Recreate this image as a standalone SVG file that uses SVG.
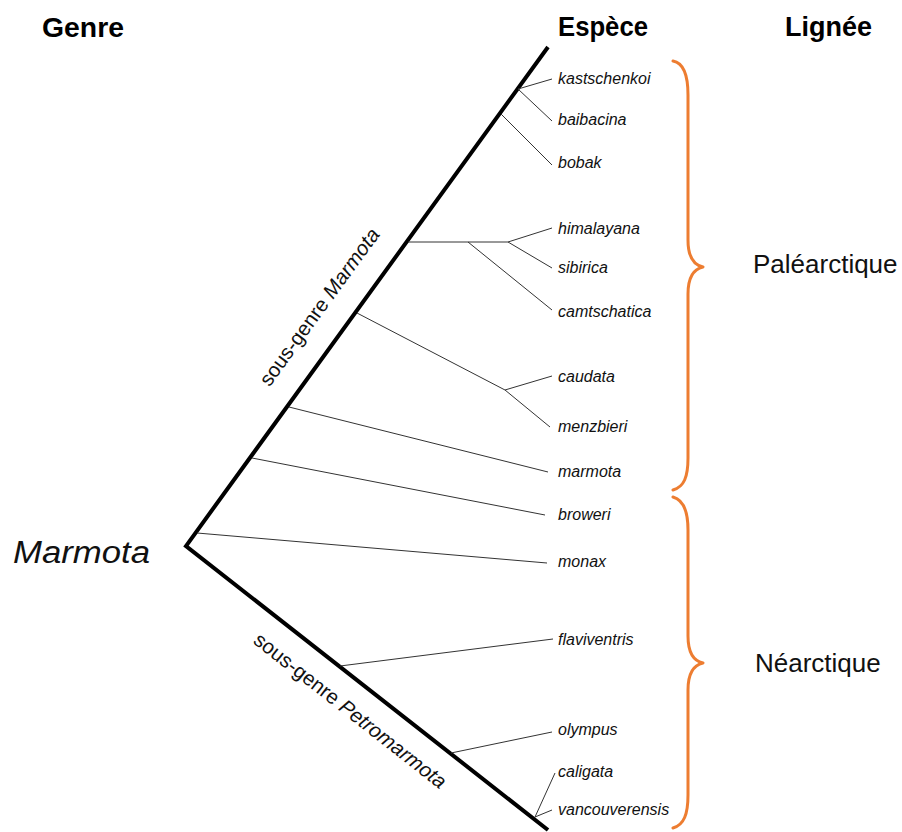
<svg xmlns="http://www.w3.org/2000/svg" width="902" height="832" viewBox="0 0 902 832">
<style>
.hdr{font-family:"Liberation Sans",Arial,sans-serif;font-weight:bold;font-size:28px;fill:#000}
.sp{font-family:"Liberation Sans",Arial,sans-serif;font-style:italic;font-size:16px;fill:#111}
.reg{font-family:"Liberation Sans",Arial,sans-serif;font-size:26px;fill:#111}
.sub{font-family:"Liberation Sans",Arial,sans-serif;font-size:20.5px;fill:#111}
.br{fill:none;stroke:#333;stroke-width:1}
.trunk{fill:none;stroke:#000;stroke-width:4;stroke-linejoin:miter;stroke-miterlimit:10}
.brace{fill:none;stroke:#ED7D31;stroke-width:3;stroke-linecap:round;stroke-linejoin:round}
</style>
<rect width="902" height="832" fill="#fff"/>
<g id="headers">
<text class="hdr" x="42" y="37" textLength="82" lengthAdjust="spacingAndGlyphs">Genre</text>
<text class="hdr" x="558" y="36" textLength="90" lengthAdjust="spacingAndGlyphs">Espèce</text>
<text class="hdr" x="785" y="36" textLength="87" lengthAdjust="spacingAndGlyphs">Lignée</text>
</g>
<g id="connectors">
<path class="trunk" d="M548 47 L186 546 L548 830"/>
<path class="br" d="M518 89 L552 79"/>
<path class="br" d="M518 89 L552 121"/>
<path class="br" d="M501 114 L552 165"/>
<path class="br" d="M408 242 L508 242"/>
<path class="br" d="M508 242 L552 228"/>
<path class="br" d="M508 242 L552 268"/>
<path class="br" d="M468 242 L552 310"/>
<path class="br" d="M357 313 L505 390"/>
<path class="br" d="M505 390 L552 376"/>
<path class="br" d="M505 390 L550 427"/>
<path class="br" d="M289 407 L548 472"/>
<path class="br" d="M252 458 L545 515"/>
<path class="br" d="M197 533 L547 563"/>
<path class="br" d="M340 666 L553 639"/>
<path class="br" d="M451 753 L552 732"/>
<path class="br" d="M535 817 L555 773"/>
<path class="br" d="M535 817 L552 810"/>
</g>
<g id="genus">
<text x="13" y="563" font-family="Liberation Sans, Arial, sans-serif" font-style="italic" font-size="31" fill="#111" textLength="137" lengthAdjust="spacingAndGlyphs">Marmota</text>
</g>
<g id="subgenus-marmota">
<text class="sub" text-anchor="middle" transform="translate(325 311) rotate(-54)">sous-genre <tspan font-style="italic">Marmota</tspan></text>
</g>
<g id="subgenus-petromarmota">
<text class="sub" text-anchor="middle" transform="translate(346 716) rotate(38.1)">sous-genre <tspan font-style="italic">Petromarmota</tspan></text>
</g>
<g id="species">
<g id="kastschenkoi"><text class="sp" x="558" y="84">kastschenkoi</text></g>
<g id="baibacina"><text class="sp" x="558" y="125">baibacina</text></g>
<g id="bobak"><text class="sp" x="558" y="168">bobak</text></g>
<g id="himalayana"><text class="sp" x="558" y="234">himalayana</text></g>
<g id="sibirica"><text class="sp" x="558" y="273">sibirica</text></g>
<g id="camtschatica"><text class="sp" x="558" y="317">camtschatica</text></g>
<g id="caudata"><text class="sp" x="558" y="382">caudata</text></g>
<g id="menzbieri"><text class="sp" x="558" y="432">menzbieri</text></g>
<g id="marmota"><text class="sp" x="558" y="477">marmota</text></g>
<g id="broweri"><text class="sp" x="558" y="520">broweri</text></g>
<g id="monax"><text class="sp" x="558" y="567">monax</text></g>
<g id="flaviventris"><text class="sp" x="558" y="645">flaviventris</text></g>
<g id="olympus"><text class="sp" x="558" y="735">olympus</text></g>
<g id="caligata"><text class="sp" x="558" y="777">caligata</text></g>
<g id="vancouverensis"><text class="sp" x="558" y="815">vancouverensis</text></g>
</g>
<g id="palearctique">
<path class="brace" d="M673 61 C684 63 688 75 688 95 L688 240 C688 258 694 265 703 267 C694 269 688 276 688 294 L688 458 C688 477 684 487 673 490"/>
<text class="reg" x="753" y="273">Paléarctique</text>
</g>
<g id="nearctique">
<path class="brace" d="M673 497 C684 500 688 512 688 530 L688 636 C688 654 694 661 703 663 C694 665 688 672 688 690 L688 795 C688 814 684 825 673 828"/>
<text class="reg" x="755" y="672">Néarctique</text>
</g>
</svg>
